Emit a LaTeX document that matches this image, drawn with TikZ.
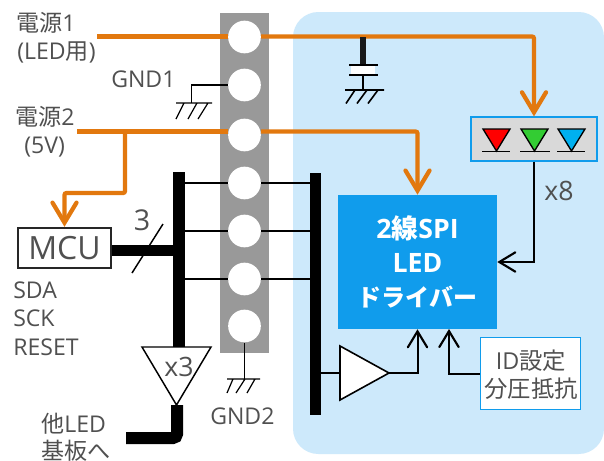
\documentclass[tikz,border=0pt]{standalone}
\usepackage{fontspec}
\setmainfont{Open Sans}
\newfontfamily\jp{Noto Sans CJK JP}
\usetikzlibrary{arrows.meta,calc,positioning}
\definecolor{ora}{HTML}{E2780E}
\definecolor{panel}{HTML}{CDE9FB}
\definecolor{blu}{HTML}{109CEC}
\definecolor{txt}{HTML}{505050}
\definecolor{strip}{HTML}{999999}
\definecolor{ledg}{HTML}{33CC33}
\definecolor{ledb}{HTML}{00B0F0}
\tikzset{
  x=0.75pt,y=-0.75pt,
  pin/.style={circle,fill=white,inner sep=0pt,minimum size=24.5pt},
  bar/.style={fill=black,inner sep=0pt,minimum width=#1,draw=none},
  orawire/.style={draw=ora,line width=3.2pt,rounded corners=1.5pt},
  thin wire/.style={draw=black,line width=1pt},
  med wire/.style={draw=black,line width=1.5pt},
  bigtip/.style={-{Straight Barb[length=15pt,width=18pt,line cap=round,line width=3.2pt]}},
  smalltip/.style={-{Straight Barb[length=12pt,width=14.5pt,line cap=round,line width=1.6pt]}},
  lab/.style={text=txt,inner sep=0pt,font=\fontsize{17.3}{19}\selectfont},
  drvlab/.style={text=white,inner sep=0pt,font=\fontsize{20}{22}\selectfont\bfseries},
  gnd/.style={draw=black,line width=0.9pt},
  ledtri/.style={draw=black,line width=1pt,line join=miter},
  bluebox/.style={draw=blu,line width=1.3pt,inner sep=0pt},
}
\begin{document}
\begin{tikzpicture}
\useasboundingbox (0,0) rectangle (604,461);
\fill[white] (0,0) rectangle (604,461);
\fill[panel,rounded corners=19pt] (293,12) rectangle (604,454);
\node[fill=strip,inner sep=0pt,minimum width=36.75pt,minimum height=255pt] (strip) at (244.5,183) {};
\node[pin] (p1) at (244.5,37) {};
\node[pin] (p2) at (244.5,85) {};
\node[pin] (p3) at (244.5,135) {};
\node[pin] (p4) at (244.5,183) {};
\node[pin] (p5) at (244.5,231) {};
\node[pin] (p6) at (244.5,279) {};
\node[pin] (p7) at (244.5,326) {};
% boxes
\node[fill=blu,inner sep=0pt,minimum width=119.25pt,minimum height=100.5pt] (drv) at (417.5,262) {};
\node[drvlab] at (417.5,228) {2{\jp 線}SPI};
\node[drvlab] at (417.5,263) {LED};
\node[drvlab,font=\fontsize{18}{20}\selectfont\bfseries\jp] at (417.5,297) {ドライバー};
\node[bluebox,fill=black!15,minimum width=95pt,minimum height=32.5pt] (led) at (534,139) {};
\node[bluebox,fill=white,minimum width=75pt,minimum height=54pt] (id) at (530.5,373.5) {};
\node[lab,font=\fontsize{17.5}{19}\selectfont] at (531,361) {ID{\jp 設定}};
\node[lab,font=\fontsize{17.5}{19}\selectfont\jp] at (531,389) {分圧抵抗};
\node[draw=black!85,line width=1.3pt,fill=white,inner sep=0pt,minimum width=70pt,minimum height=30.5pt,text=txt,font=\fontsize{24}{26}\selectfont] (mcu) at (64.5,248) {MCU};
% buses
\node[bar=9pt,minimum height=131.25pt] (busL) at (179,259.5) {};
\node[bar=8.25pt,minimum height=181.5pt] (busR) at (315.5,294) {};
% LEDs
\filldraw[ledtri,fill=red] (483,129) -- (510,129) -- (496.5,151) -- cycle;
\draw[ledtri] (482,151.5) -- (510,151.5);
\filldraw[ledtri,fill=ledg] (521,129) -- (548,129) -- (534.5,151) -- cycle;
\draw[ledtri] (520,151.5) -- (550,151.5);
\filldraw[ledtri,fill=ledb] (558,129) -- (585,129) -- (571.5,151) -- cycle;
\draw[ledtri] (557,151.5) -- (585,151.5);
% orange wires
\coordinate (s1) at (97,36.5);
\coordinate (s2) at (77,131.5);
\draw[orawire] (s1) -- (p1.west |- s1);
\draw[orawire,bigtip] (p1.east |- s1) -| (led.north);
\draw[orawire] (s2) -- (p3.west |- s2);
\draw[orawire,bigtip] (p3.east |- s2) -| (drv.north);
\coordinate (j2) at (125,131.5);
\coordinate (j3) at (125,193);
\draw[orawire,bigtip] (j2) -- (j3) -| (mcu.north);
% capacitor
\coordinate (capj) at (363,37);
\node[fill=white,inner sep=0pt,minimum width=17.5pt,minimum height=7pt] (cap) at (363,70) {};
\draw[draw=black!90,line width=4.5pt] (capj) -- (cap.north);
\draw[gnd,line width=1.3pt] (349,65) -- (378,65) (349,75) -- (378,75);
\coordinate (capg) at (363,90);
\draw[gnd,line width=1.1pt] (cap.south) -- (capg);
\draw[gnd,line width=1.2pt] (345,90) -- (384,90) (355,90) -- (346,103.5) (367,90) -- (357,103.5) (378,90) -- (368,103.5);
% GND1
\coordinate (g1) at (191.5,103);
\draw[gnd] (p2.west) -| (g1);
\draw[gnd] (176,103) -- (212,103) (184,103) -- (176,119) (197,103) -- (188,119) (208,103) -- (198,119);
% GND2
\coordinate (g2) at (244.5,379);
\draw[med wire,line width=1.1pt] (p7.south) -- (g2);
\draw[gnd] (227,379) -- (260,379) (233,379) -- (227,393) (245,379) -- (236,393) (255,379) -- (247,393);
% data lines
\foreach \p in {p4,p5,p6}{
  \draw[thin wire] (busL.east |- \p) -- (\p.west);
  \draw[thin wire] (\p.east) -- (busR.west |- \p);
}
% MCU bus
\draw[line width=8.25pt] (mcu.east |- 0,250) -- (busL.west |- 0,250);
\coordinate (sl1) at (132,273);
\coordinate (sl2) at (163,224);
\draw[thin wire,line width=1.1pt] (sl1) -- (sl2);
\node[lab,font=\fontsize{21.5}{23}\selectfont] at (142,220) {3};
% lower triangle
\filldraw[med wire,line width=1.1pt,fill=white] (142,347) -- (211,347) -- (176.5,405) -- cycle;
\node[lab,font=\fontsize{20}{22}\selectfont] at (179,367) {x3};
\coordinate (tl) at (177,405);
\coordinate (tr) at (126,438);
\draw[line width=9pt,rounded corners=3pt] (tl) |- (tr);
% right buffer
\filldraw[med wire,line width=1.2pt,fill=white] (340,346) -- (389,373) -- (340,400) -- cycle;
\coordinate (b1) at (340,373);
\coordinate (b2) at (389,373);
\draw[med wire] (busR.east |- b1) -- (b1);
\draw[med wire,smalltip] (b2) -| (drv.south);
\coordinate (idt) at (449,329);
\draw[med wire,smalltip] (id.west) -| (idt);
\draw[med wire,smalltip] (led.south) |- (drv.east |- 0,262);
% labels
\node[lab,anchor=west] at (16,23) {{\jp 電源}1};
\node[lab,anchor=west] at (17,52) {(LED{\jp 用})};
\node[lab,anchor=west] at (111,79) {GND1};
\node[lab,anchor=west] at (15,117) {{\jp 電源}2};
\node[lab,anchor=west] at (24,147) {(5V)};
\node[lab,anchor=west] at (13,290) {SDA};
\node[lab,anchor=west] at (13,318) {SCK};
\node[lab,anchor=west] at (13,347) {RESET};
\node[lab,anchor=west] at (210,416) {GND2};
\node[lab,anchor=west] at (41,424) {{\jp 他}LED};
\node[lab,anchor=west] at (41,451) {{\jp 基板へ}};
\node[lab,font=\fontsize{20}{22}\selectfont] at (559,191) {x8};
\end{tikzpicture}
\end{document}
